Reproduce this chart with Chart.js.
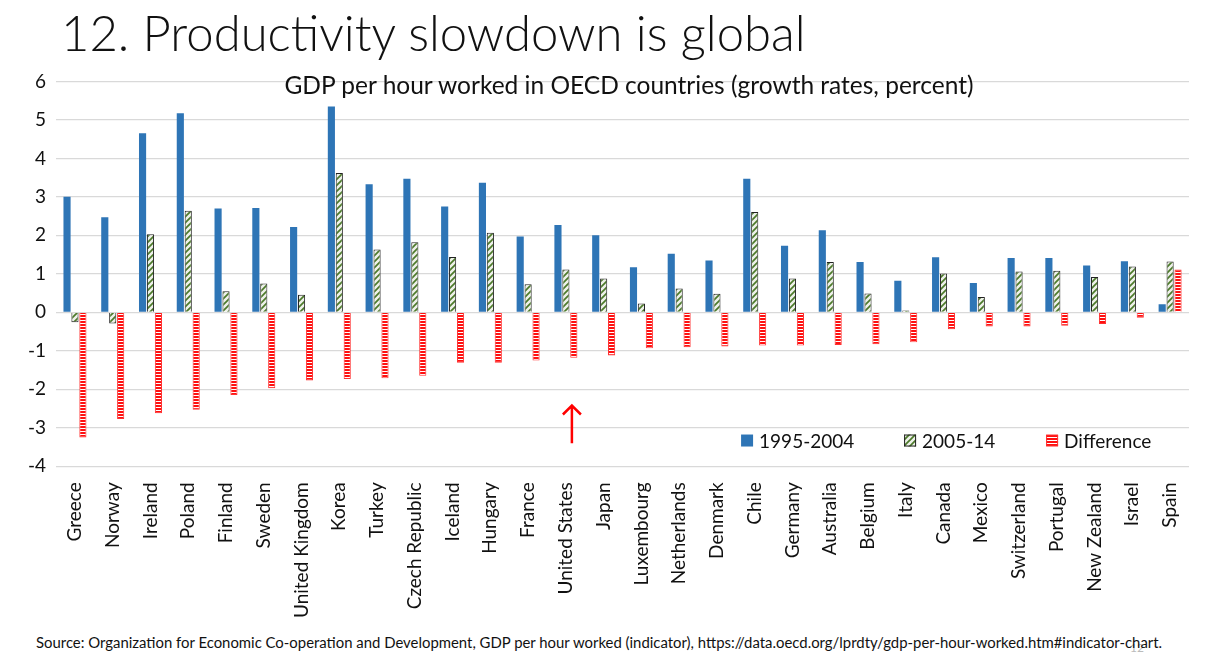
<!DOCTYPE html>
<html>
<head>
<meta charset="utf-8">
<script src="https://cdn.jsdelivr.net/npm/chart.js@4"></script>
<style>
  body { margin: 0; background: #fff; width: 1211px; height: 658px; overflow: hidden; position: relative; font-family: Lato, "Open Sans", sans-serif; }
  #slide-title { position: absolute; left: 61px; top: 3px; font-size: 49px; font-weight: 300; color: #111; white-space: nowrap; }
  #chart-title { position: absolute; left: 0; width: 1258px; top: 70px; text-align: center; font-size: 24.5px; color: #111; white-space: nowrap; z-index: 2; }
  #chart-box { position: absolute; left: 0; top: 60px; width: 1211px; height: 566px; }
  #source { position: absolute; left: 36px; top: 633px; font-size: 14.9px; color: #111; white-space: nowrap; z-index: 2; }
  #page-no { position: absolute; left: 1130px; top: 640px; font-size: 12px; color: #bbb; }
</style>
</head>
<body>
<div id="slide-title">12. Productivity slowdown is global</div>
<div id="chart-title">GDP per hour worked in OECD countries (growth rates, percent)</div>
<div id="chart-box"><canvas id="gdpChart"></canvas></div>
<div id="page-no">12</div>
<div id="source">Source: Organization for Economic Co-operation and Development, GDP per hour worked (indicator), https://data.oecd.org/lprdty/gdp-per-hour-worked.htm#indicator-chart.</div>

<script>
// Countries, ordered as in the chart
const countries = ["Greece", "Norway", "Ireland", "Poland", "Finland", "Sweden", "United Kingdom", "Korea",
  "Turkey", "Czech Republic", "Iceland", "Hungary", "France", "United States", "Japan", "Luxembourg",
  "Netherlands", "Denmark", "Chile", "Germany", "Australia", "Belgium", "Italy", "Canada", "Mexico",
  "Switzerland", "Portugal", "New Zealand", "Israel", "Spain"];

// Growth rates, percent
const growth1995 = [3.0, 2.47, 4.65, 5.17, 2.70, 2.71, 2.22, 5.35, 3.33, 3.47, 2.75, 3.37, 1.97, 2.27, 2.00,
  1.17, 1.52, 1.35, 3.47, 1.73, 2.13, 1.31, 0.82, 1.43, 0.76, 1.41, 1.41, 1.22, 1.33, 0.21];
const growth2005 = [-0.26, -0.29, 2.03, 2.64, 0.55, 0.75, 0.46, 3.62, 1.63, 1.82, 1.44, 2.07, 0.73, 1.11, 0.88,
  0.23, 0.62, 0.48, 2.61, 0.88, 1.31, 0.49, 0.05, 1.01, 0.40, 1.06, 1.08, 0.92, 1.19, 1.32];
const growthDiff = [-3.25, -2.77, -2.62, -2.53, -2.15, -1.97, -1.77, -1.73, -1.71, -1.65, -1.31, -1.31, -1.25,
  -1.18, -1.12, -0.93, -0.91, -0.89, -0.86, -0.86, -0.85, -0.83, -0.78, -0.44, -0.37, -0.37, -0.35, -0.30, -0.14, 1.11];

const seriesNames = ["1995-2004", "2005-14", "Difference"];
const highlightCountry = "United States";

const canvas = document.getElementById("gdpChart");
const ctx = canvas.getContext("2d");

// Diagonal green hatch for 2005-14
function makeHatch() {
    const c = document.createElement("canvas");
    c.width = 6; c.height = 6;
    const g = c.getContext("2d");
    g.fillStyle = "#eef1ea";
    g.fillRect(0, 0, 6, 6);
    g.strokeStyle = "#4c7a2a";
    g.lineWidth = 1.7;
    g.beginPath();
    g.moveTo(0, 6); g.lineTo(6, 0);
    g.moveTo(-1, 1); g.lineTo(1, -1);
    g.moveTo(5, 7); g.lineTo(7, 5);
    g.stroke();
    return ctx.createPattern(c, "repeat");
}

// Red horizontal stripes for difference
function makeStripes() {
    const c = document.createElement("canvas");
    c.width = 4; c.height = 3;
    const g = c.getContext("2d");
    g.fillStyle = "#ff1010";
    g.fillRect(0, 0, 4, 3);
    g.fillStyle = "#ffffff";
    g.fillRect(0, 2, 4, 1);
    return ctx.createPattern(c, "repeat");
}

const hatch = makeHatch();
const stripes = makeStripes();

// Legend inside the plot, bottom right, plus the arrow under the US
const overlayPlugin = {
    id: "overlay",
    afterDatasetsDraw(chart) {
        const c = chart.ctx;
        const area = chart.chartArea;
        const xs = chart.scales.x;
        const ys = chart.scales.y;

        // arrow
        const ax = xs.getPixelForValue(countries.indexOf(highlightCountry)) + 6;
        const yTop = ys.getPixelForValue(-2.42);
        const yBot = ys.getPixelForValue(-3.4);
        c.save();
        c.strokeStyle = "#ff0000";
        c.lineWidth = 2.5;
        c.beginPath();
        c.moveTo(ax, yBot); c.lineTo(ax, yTop);
        c.moveTo(ax - 9, yTop + 9); c.lineTo(ax, yTop); c.lineTo(ax + 9, yTop + 9);
        c.stroke();

        // legend
        const ly = ys.getPixelForValue(-3.33);
        const starts = [area.left + 685, area.left + 848, area.left + 990];
        c.font = "19px Lato";
        c.textBaseline = "middle";
        chart.data.datasets.forEach((ds, i) => {
            const x = starts[i];
            c.fillStyle = ds.backgroundColor;
            c.fillRect(x, ly - 6, 12, 12);
            if (ds.borderWidth) {
                c.strokeStyle = ds.borderColor;
                c.lineWidth = 1;
                c.strokeRect(x + 0.5, ly - 5.5, 11, 11);
            }
            c.fillStyle = "#111";
            c.fillText(ds.label, x + 18, ly + 1);
        });
        c.restore();
    }
};

new Chart(ctx, {
    type: "bar",
    data: {
        labels: countries,
        datasets: [
            { label: seriesNames[0], data: growth1995, backgroundColor: "#2e75b6", borderWidth: 0 },
            { label: seriesNames[1], data: growth2005, backgroundColor: hatch, borderColor: "#222", borderWidth: 1 },
            { label: seriesNames[2], data: growthDiff, backgroundColor: stripes, borderColor: "#ff3030", borderWidth: 1 }
        ]
    },
    options: {
        responsive: true,
        maintainAspectRatio: false,
        animation: false,
        layout: { padding: { left: 18, right: 22, top: 0, bottom: 0 } },
        datasets: { bar: { categoryPercentage: 0.63, barPercentage: 0.9 } },
        plugins: {
            legend: { display: false },
            title: { display: false },
            tooltip: { enabled: false }
        },
        scales: {
            x: {
                grid: { display: false },
                border: { display: false },
                ticks: {
                    color: "#111",
                    font: { family: "Lato", size: 19 },
                    minRotation: 90,
                    maxRotation: 90,
                    autoSkip: false,
                    padding: 8
                }
            },
            y: {
                min: -4,
                max: 6,
                grid: { color: "#d9d9d9", lineWidth: 1.3, drawTicks: false },
                border: { display: false },
                ticks: {
                    stepSize: 1,
                    color: "#111",
                    font: { family: "Lato", size: 19 },
                    padding: 10
                }
            }
        }
    },
    plugins: [overlayPlugin]
});
</script>
</body>
</html>
